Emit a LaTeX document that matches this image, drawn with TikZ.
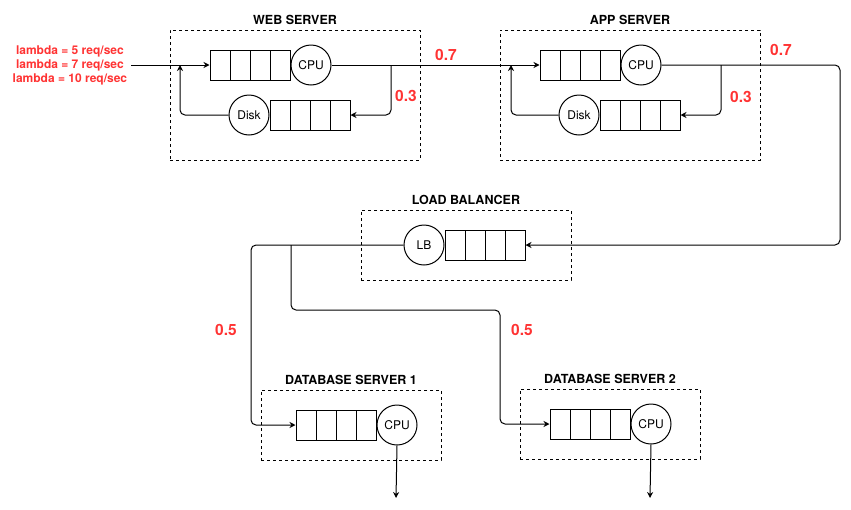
\documentclass[tikz,border=0pt]{standalone}
\usepackage{fontspec}
\setmainfont{TeX Gyre Heros}
\usetikzlibrary{arrows.meta, positioning, shapes}
\definecolor{probred}{HTML}{FF3333}

\begin{document}
\begin{tikzpicture}[
    x=1pt, y=-1pt, line width=1pt,
    box style/.style={draw, dash pattern=on 3pt off 3pt, inner sep=0pt},
    title style/.style={font=\fontsize{12.5}{14}\selectfont\bfseries, inner sep=2pt},
    queue style/.style={draw, fill=white, minimum width=80pt, minimum height=30pt, inner sep=0pt,
        path picture={\foreach \k in {1,2,3}
            \draw ([xshift=\k*20pt]path picture bounding box.north west) -- ([xshift=\k*20pt]path picture bounding box.south west);}},
    cpu style/.style={circle, draw, fill=white, minimum size=40pt, inner sep=0pt, font=\fontsize{12}{14}\selectfont},
    prob style/.style={text=probred, font=\fontsize{15.5}{17}\selectfont\bfseries},
    flow/.style={-{Stealth[length=6pt, width=6pt]}, rounded corners=5pt}
]
        \useasboundingbox (0,0) rectangle (851,509);

        % groups
        \node[box style, minimum width=250pt, minimum height=130pt] (web) at (295,95) {};
        \node[title style, above=2pt of web] {WEB SERVER};
        \node[box style, minimum width=260pt, minimum height=130pt] (app) at (630,95) {};
        \node[title style, above=2pt of app] {APP SERVER};
        \node[box style, minimum width=210pt, minimum height=70pt] (lbbox) at (466,245) {};
        \node[title style, above=2pt of lbbox] {LOAD BALANCER};
        \node[box style, minimum width=180pt, minimum height=70pt] (db1) at (351,425) {};
        \node[title style, above=2pt of db1] {DATABASE SERVER 1};
        \node[box style, minimum width=180pt, minimum height=70pt] (db2) at (610,424) {};
        \node[title style, above=2pt of db2] {DATABASE SERVER 2};

        % web server
        \node[queue style] (wq) at (250,65) {};
        \node[cpu style, right=0pt of wq] (wcpu) {CPU};
        \node[queue style] (wdq) at (310,115) {};
        \node[cpu style, left=0pt of wdq] (wdisk) {Disk};

        % app server
        \node[queue style] (aq) at (580,65) {};
        \node[cpu style, right=0pt of aq] (acpu) {CPU};
        \node[queue style] (adq) at (640,115) {};
        \node[cpu style, left=0pt of adq] (adisk) {Disk};

        % load balancer
        \node[queue style] (lbq) at (485,245) {};
        \node[cpu style, left=0pt of lbq] (lb) {LB};

        % database servers
        \node[queue style] (d1q) at (336,425) {};
        \node[cpu style, right=0pt of d1q] (d1cpu) {CPU};
        \node[queue style] (d2q) at (590,424) {};
        \node[cpu style, right=0pt of d2q] (d2cpu) {CPU};

        % arrivals
        \node[anchor=east, text=probred, align=center, font=\fontsize{12}{14}\selectfont\bfseries] (lambda) at (131,65)
            {lambda = 5 req/sec\\lambda = 7 req/sec\\lambda = 10 req/sec};

        \coordinate (wb) at (391,65);
        \coordinate (wret) at (180,65);
        \coordinate (ab) at (721,65);
        \coordinate (aret) at (511,65);
        \coordinate (ar) at (840,65);
        \coordinate (lbl) at (251,245);
        \coordinate (lbb) at (291,245);
        \coordinate (lbr) at (500,310);
        \coordinate (d1out) at (396,498);
        \coordinate (d2out) at (650,498);

        \draw[flow] (lambda.east) -- (wq.west);
        \draw[flow] (wcpu.east) -- (aq.west);
        \draw[flow] (wb) |- (wdq.east);
        \draw[flow] (wdisk.west) -| (wret);
        \draw[flow] (ab) |- (adq.east);
        \draw[flow] (adisk.west) -| (aret);
        \draw[flow] (acpu.east) -- (ar) |- (lbq.east);
        \draw[flow] (lb.west) -- (lbl) |- (d1q.west);
        \draw[flow] (lbb) |- (lbr) |- (d2q.west);
        \draw[flow] (d1cpu.south) -- (d1out);
        \draw[flow] (d2cpu.south) -- (d2out);

        % probabilities
        \node[prob style] (pw) at (406,96) {0.3};
        \node[prob style] (pa) at (741,97) {0.3};
        \node[prob style] (pwa) at (446,55) {0.7};
        \node[prob style] (pal) at (781,50) {0.7};
        \node[prob style] (pd1) at (226,330) {0.5};
        \node[prob style] (pd2) at (522,330) {0.5};
    \end{tikzpicture}
\end{document}
